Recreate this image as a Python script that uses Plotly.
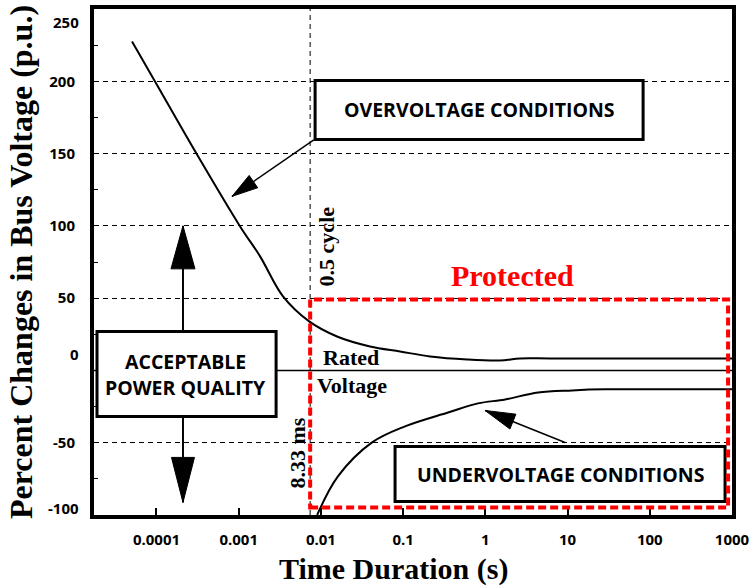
import math
import plotly.graph_objects as go

# ---------------- data ----------------
over_t = [5.04e-5, 9.6e-5, 3.1e-4, 1.04e-3, 1.82e-3, 3.46e-3,
          7.2e-3, 0.0157, 0.0396, 0.0918, 0.213, 0.600, 1.51, 2.65, 6.14, 1000]
over_v = [227.6, 199.9, 149.5, 99.6, 78.9, 51.2,
          33.9, 23.5, 16.6, 13.1, 9.7, 7.6, 6.9, 8.3, 8.3, 8.3]

under_t = [0.0090, 0.0161, 0.0419, 0.1054, 0.352, 0.815, 1.74, 4.38,
           11.4, 28.6, 1000]
under_v = [-100, -73.3, -49.8, -38.7, -29.1, -22.8, -20.1, -15.2,
           -13.8, -13.1, -13.1]

rated_t = [1.7e-5, 1000]
rated_v = [0, 0]

half_cycle_t = 0.0074          # "0.5 cycle / 8.33 ms" marker
protected_t = [0.0074, 897]     # protected region (time)
protected_v = [-94.8, 49.1]     # protected region (voltage)

x_tick_vals = [1e-4, 1e-3, 1e-2, 1e-1, 1, 10, 100, 1000]
x_tick_text = ["0.0001", "0.001", "0.01", "0.1", "1", "10", "100", "1000"]
y_tick_vals = [-100, -50, 0, 50, 100, 150, 200, 250]
y_tick_text = ["-100", "-50", "0", "50", "100", "150", "200", "250"]

# labels that the reference draws slightly off their tick (pixel shift, + = up)
y_label_shift = {250: -13, 0: 16, -100: 7}

# ---------------- layout constants ----------------
W, H = 752, 587
ML, MR, MT, MB = 94, 20, 9, 72
XR = [-4.76, 3.0005]
YR = [-100, 250.01]
PW, PH = W - ML - MR, H - MT - MB

SERIF = "Liberation Serif, Times New Roman, serif"
SANS = "Open Sans, sans-serif"
TICKFONT = dict(family=SANS, size=15, color="black", weight="bold")


def px(t):
    return ML + (math.log10(t) - XR[0]) / (XR[1] - XR[0]) * PW


def py(v):
    return MT + (YR[1] - v) / (YR[1] - YR[0]) * PH


fig = go.Figure()

fig.add_trace(go.Scatter(x=rated_t, y=rated_v, mode="lines",
                         line=dict(color="black", width=1.5), hoverinfo="skip"))
fig.add_trace(go.Scatter(x=over_t, y=over_v, mode="lines",
                         line=dict(color="black", width=2, shape="spline", smoothing=1.0),
                         hoverinfo="skip"))
fig.add_trace(go.Scatter(x=under_t, y=under_v, mode="lines",
                         line=dict(color="black", width=2, shape="spline", smoothing=1.0),
                         hoverinfo="skip"))

shapes = []
# vertical half-cycle dashed line
shapes.append(dict(type="line", xref="x", yref="y", x0=half_cycle_t, x1=half_cycle_t,
                   y0=YR[0], y1=YR[1], line=dict(color="black", width=1, dash="5px,4px"),
                   layer="below"))


def box(x0, x1, y0, y1):
    shapes.append(dict(type="rect", xref="x", yref="y", x0=x0, x1=x1, y0=y0, y1=y1,
                       fillcolor="white", line=dict(color="black", width=3), layer="above"))


def arrow(tail, tip, L, Wd, lw=1.5):
    shapes.append(dict(type="line", xref="x", yref="y", x0=tail[0], y0=tail[1],
                       x1=tip[0], y1=tip[1], line=dict(color="black", width=lw),
                       layer="above"))
    dx = px(tip[0]) - px(tail[0])
    dy = py(tip[1]) - py(tail[1])
    n = math.hypot(dx, dy)
    ux, uy = dx / n, dy / n
    nx, ny = -uy, ux
    bx, by = -L * ux, -L * uy
    c1 = (bx + Wd / 2 * nx, by + Wd / 2 * ny)
    c2 = (bx - Wd / 2 * nx, by - Wd / 2 * ny)
    path = "M0,0 L{:.2f},{:.2f} L{:.2f},{:.2f} Z".format(c1[0], -c1[1], c2[0], -c2[1])
    shapes.append(dict(type="path", xref="x", yref="y", xsizemode="pixel", ysizemode="pixel",
                       xanchor=tip[0], yanchor=tip[1], path=path,
                       fillcolor="black", line=dict(color="black", width=1), layer="above"))


# boxes
box(0.0085, 83, 159.8, 200.6)          # overvoltage
box(1.89e-5, 2.85e-3, -31.8, 27.0)     # acceptable power quality
box(0.0798, 824, -90.6, -52.6)         # undervoltage

# arrows
arrow((0.0082, 159.5), (8.3e-4, 120.4), 26, 15)
arrow((9.33, -49.8), (0.993, -27.7), 30, 16)
arrow((2.1e-4, 27.0), (2.1e-4, 100), 43, 24, lw=2)
arrow((2.1e-4, -31.8), (2.1e-4, -91.3), 45, 23, lw=2)

# protected region
shapes.append(dict(type="rect", xref="x", yref="y", x0=protected_t[0], x1=protected_t[1],
                   y0=protected_v[0], y1=protected_v[1],
                   line=dict(color="#ff0000", width=4, dash="8px,4px"), layer="above"))

ann = []


def text(t, x, y, size, family, color="black", angle=0):
    ann.append(dict(text=t, x=math.log10(x), y=y, xref="x", yref="y", showarrow=False,
                    textangle=angle, xanchor="center", yanchor="middle",
                    font=dict(family=family, size=size, color=color, weight="bold")))


text("OVERVOLTAGE CONDITIONS", 10 ** -0.076, 180.5, 19.5, SANS)
text("ACCEPTABLE", 10 ** -3.641, 6.2, 19.5, SANS)
text("POWER QUALITY", 10 ** -3.641, -11.8, 19.5, SANS)
text("UNDERVOLTAGE CONDITIONS", 10 ** 0.909, -71.9, 19.5, SANS)
text("Rated", 10 ** -1.633, 9.0, 22, SERIF)
text("Voltage", 10 ** -1.621, -10.4, 22, SERIF)
text("0.5 cycle", 10 ** -1.938, 85.8, 22, SERIF, angle=-90)
text("8.33 ms", 10 ** -2.290, -57.4, 22, SERIF, angle=-90)
text("Protected", 10 ** 0.325, 65.7, 30, SERIF, color="#ff0000")

# y tick labels that sit off their tick in the reference
axis_text = []
for v, t in zip(y_tick_vals, y_tick_text):
    if v in y_label_shift:
        axis_text.append("")
        ann.append(dict(text=t, xref="paper", yref="y", x=0, y=v, xanchor="right",
                        yanchor="middle", xshift=-13, yshift=y_label_shift[v],
                        showarrow=False, font=TICKFONT))
    else:
        axis_text.append(t)

# x-axis title (placed as paper annotation to match the reference position)
ann.append(dict(text="Time Duration (s)", xref="paper", yref="paper",
                x=(393 - ML) / PW, y=-(569 - (MT + PH)) / PH,
                xanchor="center", yanchor="middle", showarrow=False,
                font=dict(family=SERIF, size=30, color="black", weight="bold")))

fig.update_layout(
    width=W, height=H, autosize=False,
    margin=dict(l=ML, r=MR, t=MT, b=MB, pad=0, autoexpand=False),
    paper_bgcolor="white", plot_bgcolor="white",
    showlegend=False,
    shapes=shapes, annotations=ann,
    xaxis=dict(type="log", range=XR, tickvals=x_tick_vals, ticktext=x_tick_text,
               automargin=False,
               showgrid=False, zeroline=False,
               showline=True, linecolor="black", linewidth=4, mirror=True,
               ticks="inside", ticklen=7, tickwidth=1.5, tickcolor="black",
               ticklabelstandoff=8, ticklabeloverflow="allow",
               tickfont=TICKFONT),
    yaxis=dict(range=YR, tickvals=y_tick_vals, ticktext=axis_text,
               automargin=False,
               showgrid=True, gridcolor="black", gridwidth=1, griddash="5px,4px",
               zeroline=False,
               showline=True, linecolor="black", linewidth=4, mirror=True,
               ticks="inside", ticklen=5, tickwidth=1, tickcolor="black",
               minor=dict(dtick=25, ticks="inside", ticklen=4, tickcolor="black", showgrid=False),
               ticklabelstandoff=12, ticklabeloverflow="allow",
               tickfont=TICKFONT,
               title=dict(text="Percent Changes in Bus Voltage (p.u.)", standoff=8,
                          font=dict(family=SERIF, size=32, color="black", weight="bold"))),
)

fig.write_html("out.html")
